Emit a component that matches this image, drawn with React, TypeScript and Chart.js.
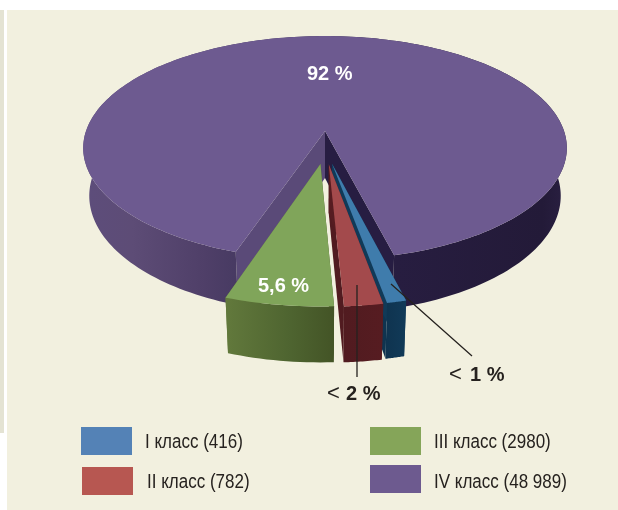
import React, { useEffect, useRef } from "react";
import { Chart, registerables } from "chart.js";

Chart.register(...registerables);

const classNames = ["I класс", "II класс", "III класс", "IV класс"];
const patientCounts = ["416", "782", "2980", "48 989"];
const sharePercent = [1, 2, 5.6, 92];
const shareLabels = ["1 %", "2 %", "5,6 %", "92 %"];
const topColors = ["#3f7cac", "#a34a4c", "#80a55a", "#6d5a90"];
const legendColors = ["#5482b6", "#b75751", "#85a559", "#6d5a8f"];
const explodeOffsets = [65, 65, 65, 0];

// perspective view of the disc
const VIEW = { cx: 325, topY: 131, topRx: 239, topRy: 109.4, botY: 178, botRx: 233, botRy: 115, k: 0.152, skew: 0.45, spread: 1.07 };

type Pt = [number, number];
const project = (u: number, v: number, bottom: boolean): Pt => {
  const w = 1 - VIEW.k * v;
  return bottom
    ? [VIEW.cx + (VIEW.botRx * u) / w, VIEW.botY + (VIEW.botRy * v) / w]
    : [VIEW.cx + (VIEW.topRx * u) / w, VIEW.topY + (VIEW.topRy * v) / w];
};

const fillPoly = (ctx: CanvasRenderingContext2D, pts: Pt[], fill: string | CanvasGradient) => {
  ctx.beginPath();
  pts.forEach((p, i) => (i ? ctx.lineTo(p[0], p[1]) : ctx.moveTo(p[0], p[1])));
  ctx.closePath();
  ctx.fillStyle = fill;
  ctx.fill();
};

const hGrad = (ctx: CanvasRenderingContext2D, x0: number, x1: number, stops: [number, string][]) => {
  const g = ctx.createLinearGradient(x0, 0, x1, 0);
  stops.forEach(([o, c]) => g.addColorStop(o, c));
  return g;
};

const drawSlice = (ctx: CanvasRenderingContext2D, el: any, i: number, isMain: boolean, c: number) => {
  const R = el.outerRadius;
  // the small slices open slightly wider around the notch centre, the big one closes accordingly
  let start = el.startAngle;
  let end = el.endAngle;
  if (isMain) {
    const half = (start - c) * VIEW.spread;
    start = c + half;
    end = c - half + Math.PI * 2;
  } else {
    start = c + (start - c) * VIEW.spread;
    end = c + (end - c) * VIEW.spread;
  }
  const mid = (start + end) / 2;
  const off = el.options.offset / R;
  const ox = off * Math.cos(mid) * VIEW.skew;
  const oy = off * Math.sin(mid);
  const n = Math.max(16, Math.ceil((end - start) * 40));
  const arc = (bottom: boolean): Pt[] => {
    const out: Pt[] = [];
    for (let s = 0; s <= n; s++) {
      const a = start + ((end - start) * s) / n;
      out.push(project(ox + Math.cos(a), oy + Math.sin(a), bottom));
    }
    return out;
  };
  const top = arc(false);
  const bot = arc(true);
  const apexT = project(ox, oy, false);
  const apexB = project(ox, oy, true);
  const wallPalette: [number, string][][] = [
    [[0, "#0f3450"], [1, "#113a58"]],
    [[0, "#511b20"], [1, "#561c21"]],
    [[0, "#62793c"], [0.6, "#4e6430"], [1, "#435426"]],
  ];
  if (isMain) {
    // cut faces of the notch, then the round outer wall
    fillPoly(ctx, [apexT, top[0], bot[0], apexB], "#5a4a78");
    fillPoly(ctx, [apexT, top[n], bot[n], apexB], "#271d42");
    const wall = hGrad(ctx, 84, 567, [
      [0, "#5d4d7b"],
      [0.1, "#5d4c76"],
      [0.25, "#4f3f68"],
      [0.32, "#473a62"],
      [0.65, "#271d40"],
      [0.95, "#231a38"],
      [1, "#2a2042"],
    ]);
    fillPoly(ctx, [...top, ...bot.slice().reverse()], wall);
    fillPoly(ctx, [apexT, ...top], topColors[i]);
  } else {
    fillPoly(ctx, [apexT, top[n], bot[n], apexB], wallPalette[i][0][1]);
    fillPoly(ctx, [apexT, top[0], bot[0], apexB], wallPalette[i][wallPalette[i].length - 1][1]);
    const wall = hGrad(ctx, top[n][0], top[0][0], wallPalette[i]);
    fillPoly(ctx, [...top, ...bot.slice().reverse()], wall);
    fillPoly(ctx, [apexT, ...top], topColors[i]);
  }
};

const pie3d = {
  id: "pie3d",
  beforeDraw(chart: any) {
    const ctx = chart.ctx as CanvasRenderingContext2D;
    ctx.save();
    ctx.fillStyle = "#ffffff";
    ctx.fillRect(0, 0, 618, 510);
    ctx.fillStyle = "#e4e3d3";
    ctx.fillRect(0, 10, 4, 423);
    ctx.fillStyle = "#f2f0df";
    ctx.fillRect(7, 10, 611, 500);
    ctx.restore();
  },
  beforeDatasetsDraw(chart: any) {
    const ctx = chart.ctx as CanvasRenderingContext2D;
    const arcs = chart.getDatasetMeta(0).data;
    const c = (arcs[0].startAngle + arcs[2].endAngle) / 2;
    ctx.save();
    drawSlice(ctx, arcs[3], 3, true, c);
    drawSlice(ctx, arcs[2], 2, false, c);
    drawSlice(ctx, arcs[0], 0, false, c);
    drawSlice(ctx, arcs[1], 1, false, c);
    ctx.restore();
    return false;
  },
  afterDraw(chart: any) {
    const ctx = chart.ctx as CanvasRenderingContext2D;
    ctx.save();
    // leader lines
    ctx.strokeStyle = "#26221f";
    ctx.lineWidth = 1.3;
    ctx.beginPath();
    ctx.moveTo(357, 285);
    ctx.lineTo(357, 377);
    ctx.moveTo(391, 284);
    ctx.lineTo(472, 356);
    ctx.stroke();

    ctx.textBaseline = "alphabetic";
    ctx.textAlign = "left";
    const BOLD = 'bold 20px "Liberation Sans", Arial, sans-serif';
    const REG = '22px "Liberation Sans", Arial, sans-serif';
    ctx.font = BOLD;
    ctx.fillStyle = "#ffffff";
    ctx.fillText(shareLabels[3], 307, 80);
    ctx.fillText(shareLabels[2], 258, 292);
    ctx.fillStyle = "#26221f";
    ctx.fillText(shareLabels[1], 346, 400);
    ctx.fillText(shareLabels[0], 470, 381);
    ctx.font = REG;
    ctx.fillText("<", 327, 400);
    ctx.fillText("<", 449, 381);

    // legend
    const swatches: [number, number][] = [[81, 427], [82, 467], [370, 427], [370, 465]];
    const texts: [number, number][] = [[145, 448], [147, 488], [434, 448], [434, 488]];
    classNames.forEach((name, i) => {
      ctx.fillStyle = legendColors[i];
      ctx.fillRect(swatches[i][0], swatches[i][1], 51, 28);
      ctx.fillStyle = "#26221f";
      ctx.font = '20px "Liberation Sans", sans-serif';
      ctx.save();
      ctx.translate(texts[i][0], texts[i][1]);
      ctx.scale(0.85, 1);
      ctx.fillText(`${name} (${patientCounts[i]})`, 0, 0);
      ctx.restore();
    });
    ctx.restore();
  },
};

export default function App() {
  const ref = useRef<HTMLCanvasElement>(null);
  useEffect(() => {
    const chart = new Chart(ref.current as HTMLCanvasElement, {
      type: "pie",
      data: {
        labels: classNames,
        datasets: [
          {
            data: sharePercent,
            backgroundColor: topColors,
            offset: explodeOffsets,
            borderWidth: 0,
          },
        ],
      },
      options: {
        responsive: false,
        animation: false,
        rotation: 166.8,
        layout: { padding: 0 },
        plugins: { legend: { display: false }, tooltip: { enabled: false } },
      },
      plugins: [pie3d],
    } as any);
    return () => chart.destroy();
  }, []);
  return (
    <div style={{ position: "absolute", left: 0, top: 0, width: 618, height: 510 }}>
      <canvas ref={ref} width={618} height={510} style={{ display: "block" }} />
    </div>
  );
}
